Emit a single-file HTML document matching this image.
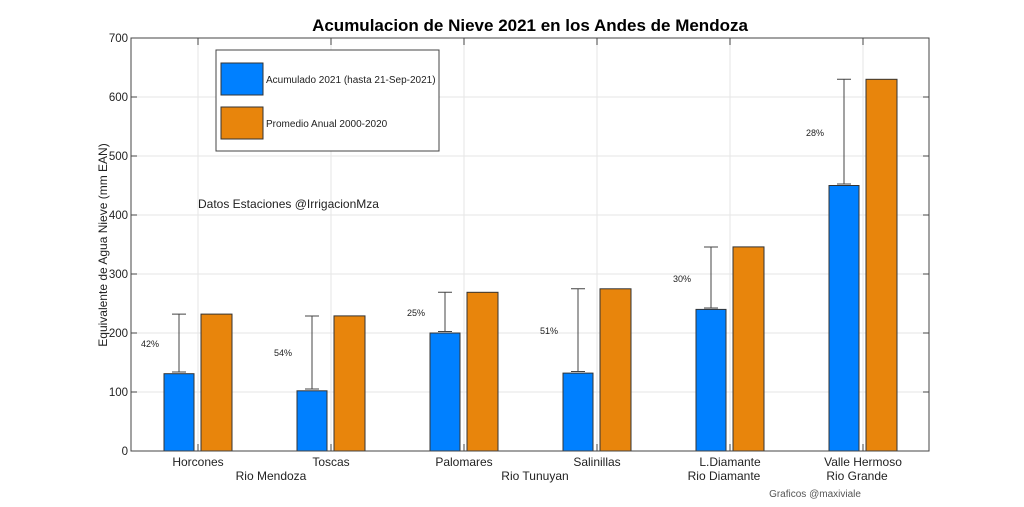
<!DOCTYPE html>
<html><head><meta charset="utf-8"><style>
html,body{margin:0;padding:0;background:#fff;}
svg{display:block;font-family:"Liberation Sans",Arial,sans-serif;}
</style></head><body>
<svg width="1024" height="507" viewBox="0 0 1024 507" xmlns="http://www.w3.org/2000/svg">
<rect width="1024" height="507" fill="#fff"/>
<text x="530" y="31" font-size="17" font-weight="bold" text-anchor="middle" fill="#000">Acumulacion de Nieve 2021 en los Andes de Mendoza</text>
<g stroke="#e6e6e6" stroke-width="1">
<line x1="131" y1="392" x2="929" y2="392"/><line x1="131" y1="333" x2="929" y2="333"/>
<line x1="131" y1="274" x2="929" y2="274"/><line x1="131" y1="215" x2="929" y2="215"/>
<line x1="131" y1="156" x2="929" y2="156"/><line x1="131" y1="97" x2="929" y2="97"/>
<line x1="198" y1="38" x2="198" y2="451"/><line x1="331" y1="38" x2="331" y2="451"/>
<line x1="464" y1="38" x2="464" y2="451"/><line x1="597" y1="38" x2="597" y2="451"/>
<line x1="730" y1="38" x2="730" y2="451"/><line x1="863" y1="38" x2="863" y2="451"/>
</g>
<g stroke="#333" stroke-width="1">
<rect x="164" y="373.7" width="30" height="77.3" fill="#0080ff"/>
<rect x="201" y="314.1" width="31" height="136.9" fill="#e8850c"/>
<rect x="297" y="390.8" width="30" height="60.2" fill="#0080ff"/>
<rect x="334" y="315.9" width="31" height="135.1" fill="#e8850c"/>
<rect x="430" y="333" width="30" height="118" fill="#0080ff"/>
<rect x="467" y="292.3" width="31" height="158.7" fill="#e8850c"/>
<rect x="563" y="373.1" width="30" height="77.9" fill="#0080ff"/>
<rect x="600" y="288.8" width="31" height="162.2" fill="#e8850c"/>
<rect x="696" y="309.4" width="30" height="141.6" fill="#0080ff"/>
<rect x="733" y="246.9" width="31" height="204.1" fill="#e8850c"/>
<rect x="829" y="185.5" width="30" height="265.5" fill="#0080ff"/>
<rect x="866" y="79.3" width="31" height="371.7" fill="#e8850c"/>
</g>
<g stroke="#444" stroke-width="1">
<path d="M179 314.1V372M172 314.1H186M172 372H186"/>
<path d="M312 316V389M305 316H319M305 389H319"/>
<path d="M445 292.3V331.5M438 292.3H452M438 331.5H452"/>
<path d="M578 288.8V371.5M571 288.8H585M571 371.5H585"/>
<path d="M711 247V308M704 247H718M704 308H718"/>
<path d="M844 79.3V184M837 79.3H851M837 184H851"/>
</g>
<g font-size="9" fill="#222" text-anchor="middle">
<text x="150" y="347">42%</text><text x="283" y="356">54%</text>
<text x="416" y="316">25%</text><text x="549" y="334">51%</text>
<text x="682" y="282">30%</text><text x="815" y="136">28%</text>
</g>
<rect x="131" y="38" width="798" height="413" fill="none" stroke="#444" stroke-width="1"/>
<g stroke="#444" stroke-width="1">
<path d="M131 392h6M131 333h6M131 274h6M131 215h6M131 156h6M131 97h6"/>
<path d="M929 392h-6M929 333h-6M929 274h-6M929 215h-6M929 156h-6M929 97h-6"/>
<path d="M198 451v-7M331 451v-7M464 451v-7M597 451v-7M730 451v-7M863 451v-7"/>
<path d="M198 38v7M331 38v7M464 38v7M597 38v7M730 38v7M863 38v7"/>
</g>
<g font-size="11.5" fill="#222" text-anchor="end">
<text x="128" y="455">0</text><text x="128" y="396">100</text><text x="128" y="337">200</text>
<text x="128" y="278">300</text><text x="128" y="219">400</text><text x="128" y="160">500</text>
<text x="128" y="101">600</text><text x="128" y="42">700</text>
</g>
<g font-size="12" fill="#222" text-anchor="middle">
<text x="198" y="466">Horcones</text><text x="331" y="466">Toscas</text>
<text x="464" y="466">Palomares</text><text x="597" y="466">Salinillas</text>
<text x="730" y="466">L.Diamante</text><text x="863" y="466">Valle Hermoso</text>
<text x="271" y="480">Rio Mendoza</text><text x="535" y="480">Rio Tunuyan</text>
<text x="724" y="480">Rio Diamante</text><text x="857" y="480">Rio Grande</text>
</g>
<text x="107" y="245" font-size="12" fill="#222" text-anchor="middle" transform="rotate(-90 107 245)">Equivalente de Agua Nieve (mm EAN)</text>
<text x="198" y="208" font-size="12" fill="#222">Datos Estaciones @IrrigacionMza</text>
<text x="815" y="497" font-size="10" fill="#555" text-anchor="middle">Graficos @maxiviale</text>
<rect x="216" y="50" width="223" height="101" fill="#fff" stroke="#444"/>
<rect x="221" y="63" width="42" height="32" fill="#0080ff" stroke="#333"/>
<rect x="221" y="107" width="42" height="32" fill="#e8850c" stroke="#333"/>
<text x="266" y="83" font-size="10" fill="#222">Acumulado 2021 (hasta 21-Sep-2021)</text>
<text x="266" y="127" font-size="10" fill="#222">Promedio Anual 2000-2020</text>
</svg>
</body></html>
